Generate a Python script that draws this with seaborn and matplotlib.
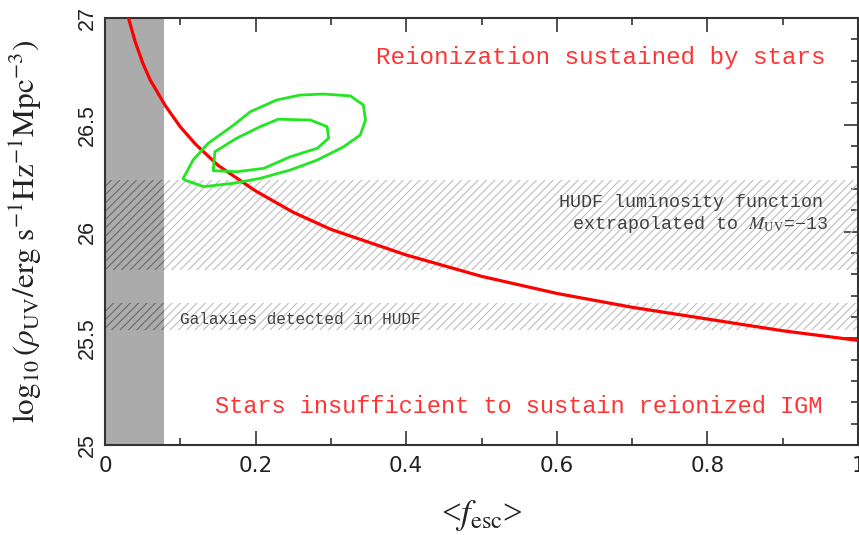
import matplotlib
matplotlib.use("Agg")
import matplotlib.pyplot as plt
import seaborn as sns
import pandas as pd
from matplotlib.patches import Rectangle
from matplotlib.ticker import MultipleLocator, FixedLocator

# UV luminosity density required to keep the IGM ionized, vs escape fraction
f_esc = [0.028, 0.04, 0.05, 0.06, 0.08, 0.10, 0.12, 0.15, 0.20, 0.25, 0.30,
         0.35, 0.40, 0.45, 0.50, 0.60, 0.70, 0.80, 0.90, 1.00]
log_rho_req = [27.04, 26.89, 26.79, 26.71, 26.59, 26.49, 26.41, 26.31, 26.19,
               26.09, 26.01, 25.95, 25.89, 25.84, 25.79, 25.71, 25.645, 25.59,
               25.535, 25.49]

# Constraint contours (outer and inner confidence regions)
outer_f = [0.104, 0.117, 0.137, 0.171, 0.193, 0.228, 0.259, 0.290, 0.326, 0.343,
           0.346, 0.339, 0.317, 0.282, 0.246, 0.206, 0.171, 0.131, 0.106, 0.104]
outer_rho = [26.249, 26.335, 26.413, 26.499, 26.561, 26.616, 26.639, 26.644,
             26.635, 26.593, 26.522, 26.452, 26.397, 26.335, 26.288, 26.249,
             26.226, 26.210, 26.241, 26.249]
inner_f = [0.144, 0.146, 0.175, 0.206, 0.230, 0.273, 0.295, 0.297, 0.282, 0.246,
           0.211, 0.175, 0.144, 0.144]
inner_rho = [26.296, 26.374, 26.437, 26.491, 26.526, 26.522, 26.491, 26.437,
             26.390, 26.350, 26.296, 26.280, 26.285, 26.296]

# Observational bands in log10(rho_UV)
hudf_lf_band = [25.82, 26.24]
detected_band = [25.54, 25.665]
excluded_f_max = 0.078

x_ticks = [0, 0.2, 0.4, 0.6, 0.8, 1.0]
x_tick_labels = ["0", "0.2", "0.4", "0.6", "0.8", "1"]
y_ticks = [25, 25.5, 26, 26.5, 27]
y_tick_labels = ["25", "25.5", "26", "26.5", "27"]

sns.set_theme(style="ticks")
plt.rcParams["mathtext.fontset"] = "stix"
plt.rcParams["hatch.linewidth"] = 0.8

fig = plt.figure(figsize=(8.59, 5.35), dpi=100)
ax = fig.add_axes([105 / 859, 90 / 535, 753 / 859, 427 / 535])
ax.set_xlim(0, 1)
ax.set_ylim(25, 27)

# Excluded low escape fraction region
ax.axvspan(0, excluded_f_max, color="#ababab", lw=0, zorder=1)

# Hatched observational bands
for lo, hi in (hudf_lf_band, detected_band):
    ax.add_patch(Rectangle((excluded_f_max, lo), 1 - excluded_f_max, hi - lo,
                           fill=False, hatch="////", edgecolor="#bebebe",
                           linewidth=0, zorder=1.5))
    ax.add_patch(Rectangle((0, lo), excluded_f_max, hi - lo,
                           fill=False, hatch="////", edgecolor="#6a6a6a",
                           linewidth=0, zorder=1.5))

curve = pd.DataFrame({"f": f_esc, "rho": log_rho_req})
sns.lineplot(data=curve, x="f", y="rho", color="#ff0000", lw=2.3,
             sort=False, estimator=None, ax=ax, zorder=3)
sns.lineplot(x=outer_f, y=outer_rho, color="#22e622", lw=2.0, sort=False,
             estimator=None, ax=ax, zorder=3)
sns.lineplot(x=inner_f, y=inner_rho, color="#22e622", lw=2.0, sort=False,
             estimator=None, ax=ax, zorder=3)

mono = "Liberation Mono"
ax.text(0.957, 26.817, "Reionization sustained by stars", color="#ff3535",
        family=mono, fontsize=17.5, ha="right", va="center")
ax.text(0.953, 25.178, "Stars insufficient to sustain reionized IGM",
        color="#ff3535", family=mono, fontsize=17, ha="right", va="center")
ax.text(0.953, 26.135, "HUDF luminosity function", color="#404040",
        family=mono, fontsize=13.2, ha="right", va="center")
ax.text(0.96, 26.035, r"extrapolated to $M_{\rm UV}$=−13", color="#404040",
        family=mono, fontsize=13.2, ha="right", va="center")
ax.text(0.099, 25.59, "Galaxies detected in HUDF", color="#404040",
        family=mono, fontsize=11.6, ha="left", va="center")

ax.xaxis.set_major_locator(FixedLocator(x_ticks))
ax.xaxis.set_minor_locator(MultipleLocator(0.1))
ax.yaxis.set_major_locator(FixedLocator(y_ticks))
ax.yaxis.set_minor_locator(MultipleLocator(0.1))
ax.set_xticklabels(x_tick_labels, family="DejaVu Sans", fontsize=15.5,
                   color="#222222")
ax.set_yticklabels(y_tick_labels, family="Liberation Sans", fontsize=15.5,
                   rotation=90, va="center", color="#222222")

ax.tick_params(which="both", direction="in", top=True, right=True, left=False,
               color="#333333", width=1.2)
ax.tick_params(which="major", length=10)
ax.tick_params(which="minor", length=5)
ax.tick_params(axis="x", pad=8)
ax.tick_params(axis="y", pad=5)
for s in ax.spines.values():
    s.set_color("#333333")
    s.set_linewidth(1.5)

ax.set_xlabel(r"<$f_{\rm esc}$>", fontsize=25, family="Liberation Serif",
              color="#222222", labelpad=16)
ax.set_ylabel(r"$\log_{10}(\rho_{\rm UV}/{\rm erg\ s^{-1}Hz^{-1}Mpc^{-3}})$",
              fontsize=22.5, color="#222222")
ax.yaxis.set_label_coords(-0.08, 0.5)

fig.savefig("out.png", dpi=100)
